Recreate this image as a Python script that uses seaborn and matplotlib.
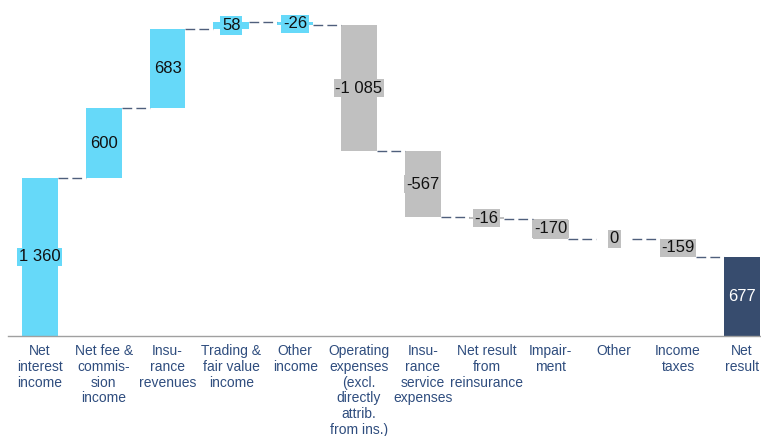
import matplotlib
matplotlib.use("Agg")
import matplotlib.pyplot as plt
import seaborn as sns
import numpy as np

categories = ["Net\ninterest\nincome", "Net fee &\ncommis-\nsion\nincome", "Insu-\nrance\nrevenues",
              "Trading &\nfair value\nincome", "Other\nincome", "Operating\nexpenses\n(excl.\ndirectly\nattrib.\nfrom ins.)",
              "Insu-\nrance\nservice\nexpenses", "Net result\nfrom\nreinsurance", "Impair-\nment", "Other",
              "Income\ntaxes", "Net\nresult"]
values = [1360, 600, 683, 58, -26, -1085, -567, -16, -170, 0, -159, 677]
kinds = ["inc", "inc", "inc", "inc", "inc", "exp", "exp", "exp", "exp", "exp", "exp", "total"]

colors = {"inc": "#66D9F9", "exp": "#C0C0C0", "total": "#374C6E"}
text_colors = {"inc": "#111111", "exp": "#111111", "total": "#FFFFFF"}

# waterfall geometry
bottoms, heights, ends = [], [], []
run = 0
for v, k in zip(values, kinds):
    if k == "total":
        bottoms.append(0); heights.append(v); ends.append(v)
    else:
        lo = min(run, run + v)
        bottoms.append(lo); heights.append(abs(v))
        run += v
        ends.append(run)

sns.set_style("white")
plt.rcParams["font.family"] = ["Liberation Sans", "DejaVu Sans"]

fig = plt.figure(figsize=(7.61, 4.36), dpi=100)
ax = fig.add_axes([8/761, 100/436, 753/761, 336/436])

xs = list(range(len(categories)))
sns.barplot(x=xs, y=heights, bottom=bottoms, color="#66D9F9", width=0.56, ax=ax,
            saturation=1, order=xs)
for p, k in zip(ax.patches, kinds):
    p.set_facecolor(colors[k])
    p.set_edgecolor("none")

# connectors
hw = 0.28
for i in range(len(values) - 1):
    y = ends[i]
    ax.plot([i + hw, i + 1 - hw], [y, y], color="#4F5F7C", lw=1.0,
            ls=(0, (7, 3)), zorder=1)

# value labels
def fmt(v):
    s = f"{abs(v):,}".replace(",", " ")
    return ("-" if v < 0 else "") + s

for i, (v, k) in enumerate(zip(values, kinds)):
    yc = bottoms[i] + heights[i] / 2
    ax.text(i, yc, fmt(v), ha="center", va="center", fontsize=12,
            color=text_colors[k], zorder=5,
            bbox=dict(boxstyle="square,pad=0.1", facecolor=colors[k], edgecolor="none"))

ax.set_xlim(-0.5, 11.3)
ax.set_ylim(0, 2892)
ax.set_yticks([])
ax.set_xticks(xs)
ax.set_xticklabels(categories, fontsize=10, color="#2F4D7E", linespacing=1.15,
                   family=["Liberation Sans Narrow", "Liberation Sans", "DejaVu Sans"])
ax.tick_params(axis="x", length=0, pad=6)
for s in ["top", "right", "left"]:
    ax.spines[s].set_visible(False)
ax.spines["bottom"].set_color("#A0A0A0")
ax.spines["bottom"].set_linewidth(1.0)

fig.savefig("out.png", dpi=100)
